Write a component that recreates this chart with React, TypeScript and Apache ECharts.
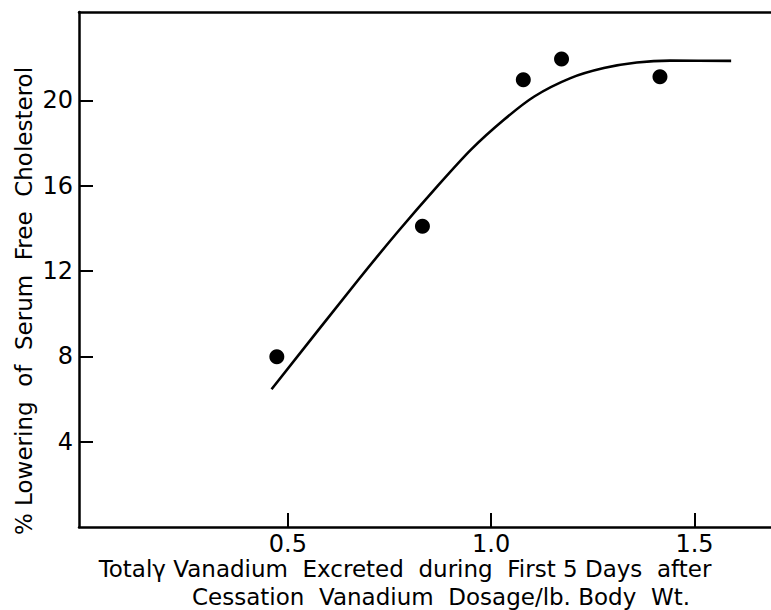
import React, { useEffect, useRef } from "react";
import * as echarts from "echarts";

const pointX = [0.473, 0.831, 1.079, 1.173, 1.415];
const pointY = [7.98, 14.1, 20.96, 21.94, 21.11];

const curveX = [0.46, 0.674, 0.771, 0.869, 0.951, 1.032, 1.106, 1.195, 1.277, 1.358, 1.44, 1.59];
const curveY = [6.46, 11.6, 13.85, 16.0, 17.7, 19.1, 20.18, 21.04, 21.51, 21.77, 21.86, 21.85];

const xTickValues = [0.5, 1.0, 1.5];
const xTickLabels = ["0.5", "1.0", "1.5"];
const yTickValues = [4, 8, 12, 16, 20];
const yTickLabels = ["4", "8", "12", "16", "20"];

const yTitle = "% Lowering  of  Serum  Free  Cholesterol";
const xTitle1 = "Totalγ Vanadium  Excreted  during  First 5 Days  after";
const xTitle2 = "Cessation  Vanadium  Dosage/lb. Body  Wt.";

const FONT = "'DejaVu Sans', sans-serif";

export default function App() {
  const ref = useRef<HTMLDivElement>(null);
  useEffect(() => {
    if (!ref.current) return;
    const chart = echarts.init(ref.current, undefined, { renderer: "svg" });
    const axisLine = { show: true, onZero: false, lineStyle: { color: "#000", width: 2.5 } };
    chart.setOption({
      animation: false,
      backgroundColor: "#ffffff",
      grid: { left: 79, top: 12, right: -4, bottom: 83 },
      xAxis: [
        {
          type: "value",
          min: -0.0134,
          max: 1.688,
          splitLine: { show: false },
          axisLine,
          axisTick: {
            show: true,
            inside: true,
            length: 14,
            customValues: xTickValues,
            lineStyle: { color: "#000", width: 2 },
          },
          axisLabel: {
            color: "#000",
            fontFamily: FONT,
            fontSize: 24,
            margin: 5,
            customValues: xTickValues,
            formatter: (v: number) => {
              const i = xTickValues.findIndex((t) => Math.abs(t - v) < 1e-6);
              return i >= 0 ? xTickLabels[i] : "";
            },
          },
        },
        {
          type: "value",
          position: "top",
          min: -0.0134,
          max: 1.688,
          splitLine: { show: false },
          axisLine,
          axisTick: { show: false },
          axisLabel: { show: false },
        },
      ],
      yAxis: {
        type: "value",
        min: 0,
        max: 24.14,
        splitLine: { show: false },
        axisLine,
        axisTick: {
          show: true,
          inside: true,
          length: 14,
          customValues: yTickValues,
          lineStyle: { color: "#000", width: 2 },
        },
        axisLabel: {
          color: "#000",
          fontFamily: FONT,
          fontSize: 24,
          margin: 6,
          customValues: yTickValues,
          formatter: (v: number) => {
            const i = yTickValues.findIndex((t) => Math.abs(t - v) < 1e-6);
            return i >= 0 ? yTickLabels[i] : "";
          },
        },
      },
      series: [
        {
          type: "line",
          data: curveX.map((x, i) => [x, curveY[i]]),
          smooth: 0.25,
          showSymbol: false,
          lineStyle: { color: "#000", width: 2.6 },
          xAxisIndex: 0,
        },
        {
          type: "scatter",
          data: pointX.map((x, i) => [x, pointY[i]]),
          symbol: "circle",
          symbolSize: 15,
          itemStyle: { color: "#000", opacity: 1 },
          xAxisIndex: 0,
        },
      ],
      graphic: [
        {
          type: "text",
          x: 24,
          y: 301,
          rotation: Math.PI / 2,
          style: {
            text: yTitle,
            fill: "#000",
            font: `23px ${FONT}`,
            align: "center",
            verticalAlign: "middle",
          },
        },
        {
          type: "text",
          x: 405,
          y: 569,
          style: {
            text: xTitle1,
            fill: "#000",
            font: `23px ${FONT}`,
            align: "center",
            verticalAlign: "middle",
          },
        },
        {
          type: "text",
          x: 441,
          y: 597,
          style: {
            text: xTitle2,
            fill: "#000",
            font: `23px ${FONT}`,
            align: "center",
            verticalAlign: "middle",
          },
        },
      ],
    });
    return () => chart.dispose();
  }, []);
  return (
    <div
      ref={ref}
      style={{ position: "fixed", left: 0, top: 0, width: 771, height: 610, background: "#fff" }}
    />
  );
}
